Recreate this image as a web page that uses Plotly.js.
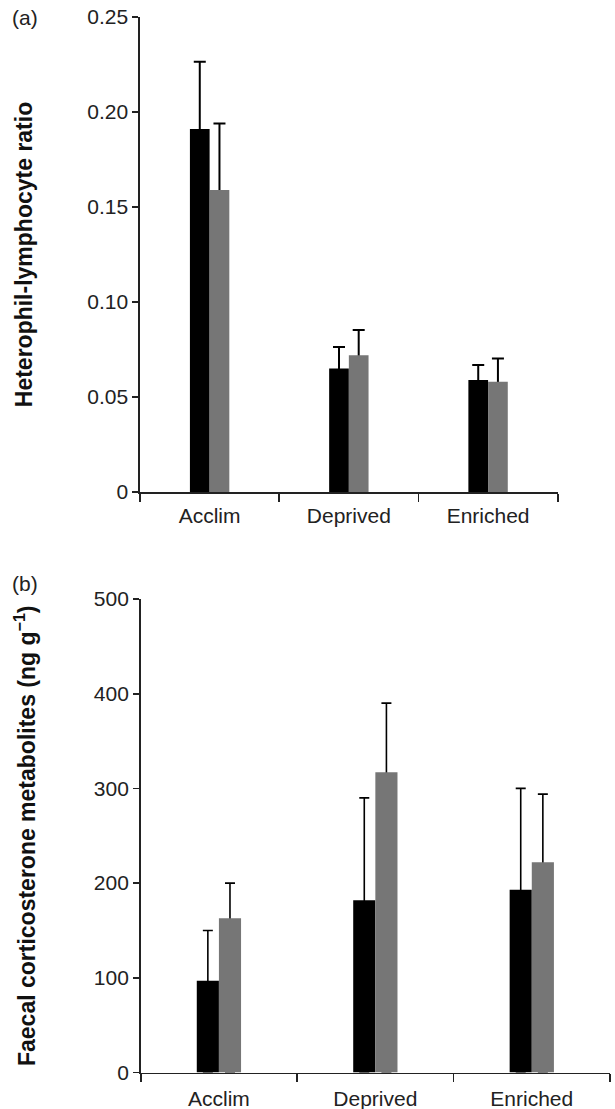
<!DOCTYPE html>
<html>
<head>
<meta charset="utf-8">
<script src="https://cdn.plot.ly/plotly-3.0.1.min.js"></script>
<style>html,body{margin:0;padding:0;background:#fff;}#chart{width:615px;height:1109px;}</style>
</head>
<body>
<div id="chart"></div>
<script>
// ---- data ----
const categories = ["Acclim", "Deprived", "Enriched"];

// Panel (a): heterophil-lymphocyte ratio
const hlBlack = [0.191, 0.065, 0.059];
const hlBlackErr = [0.0355, 0.0113, 0.0079];
const hlGray = [0.159, 0.072, 0.058];
const hlGrayErr = [0.035, 0.0133, 0.0123];
const hlTickVals = [0, 0.05, 0.10, 0.15, 0.20, 0.25];
const hlTickText = ["0", "0.05", "0.10", "0.15", "0.20", "0.25"];

// Panel (b): faecal corticosterone metabolites (ng g-1)
const fcBlack = [97, 182, 193];
const fcBlackErr = [53, 108, 107];
const fcGray = [163, 317, 222];
const fcGrayErr = [37, 73, 72];
const fcTickVals = [0, 100, 200, 300, 400, 500];
const fcTickText = ["0", "100", "200", "300", "400", "500"];

// ---- styles ----
const BLACK = "#000000";
const GRAY = "#767676";
const AXC = "#222222";
const FONT = "Liberation Sans, Arial, sans-serif";
const CLEAR = "rgba(0,0,0,0)";

// Error bars only point upward: each is carried by a transparent bar in the
// same offset group, drawn first, so the real bar hides the part inside it.
function errOpts(y, err, errW, capW) {
  return {type: "data", symmetric: false, array: err, arrayminus: y,
          visible: true, color: "#000000", thickness: errW, width: capW};
}
function bar(y, color, xa, ya, name, group, extra) {
  return Object.assign({
    type: "bar", x: categories, y: y, name: name,
    xaxis: xa, yaxis: ya, offsetgroup: group,
    marker: {color: color, line: {width: 0}},
    showlegend: false, hoverinfo: "y"
  }, extra || {});
}

const traces = [
  // panel (a)
  bar(hlBlack, CLEAR, "x", "y", "Group 1 SE", "g1", {error_y: errOpts(hlBlack, hlBlackErr, 2, 6), hoverinfo: "skip"}),
  bar(hlGray, CLEAR, "x", "y", "Group 2 SE", "g2", {error_y: errOpts(hlGray, hlGrayErr, 2, 6), hoverinfo: "skip"}),
  bar(hlBlack, BLACK, "x", "y", "Group 1", "g1"),
  bar(hlGray, GRAY, "x", "y", "Group 2", "g2"),
  // panel (b)
  bar(fcBlack, CLEAR, "x2", "y2", "Group 1 SE", "g1", {error_y: errOpts(fcBlack, fcBlackErr, 1.6, 5), hoverinfo: "skip"}),
  bar(fcGray, CLEAR, "x2", "y2", "Group 2 SE", "g2", {error_y: errOpts(fcGray, fcGrayErr, 1.6, 5), hoverinfo: "skip"}),
  bar(fcBlack, BLACK, "x2", "y2", "Group 1", "g1"),
  bar(fcGray, GRAY, "x2", "y2", "Group 2", "g2")
];

const W = 615, H = 1109;
const xAxisBase = {
  type: "category", showline: true, linecolor: AXC, linewidth: 1.6,
  ticks: "outside", tickson: "boundaries", ticklen: 8, tickwidth: 1.6, tickcolor: AXC,
  showgrid: false, zeroline: false, fixedrange: true,
  tickfont: {family: FONT, size: 21, color: "#222"}, ticklabelstandoff: 4
};
const yAxisBase = {
  showline: true, linecolor: AXC, linewidth: 1.6,
  ticks: "outside", ticklen: 6, tickwidth: 1.6, tickcolor: AXC,
  showgrid: false, zeroline: false, fixedrange: true,
  tickfont: {family: FONT, size: 21, color: "#222"}
};

const layout = {
  width: W, height: H,
  margin: {l: 0, r: 0, t: 0, b: 0},
  paper_bgcolor: "#fff", plot_bgcolor: "#fff",
  barmode: "group", bargap: 0.717, bargroupgap: 0,
  font: {family: FONT, color: "#111"},
  xaxis: Object.assign({}, xAxisBase, {domain: [140/W, 557.7/W], anchor: "y"}),
  yaxis: Object.assign({}, yAxisBase, {
    domain: [1 - 492/H, 1 - 17/H], anchor: "x", range: [0, 0.25],
    tickmode: "array", tickvals: hlTickVals, ticktext: hlTickText,
    title: {text: "Heterophil-lymphocyte ratio", standoff: 48,
            font: {family: FONT, size: 23, color: "#111", weight: "bold"}}
  }),
  xaxis2: Object.assign({}, xAxisBase, {domain: [140.7/W, 610/W], anchor: "y2", ticklabelstandoff: 7}),
  yaxis2: Object.assign({}, yAxisBase, {
    domain: [1 - 1072.5/H, 1 - 599/H], anchor: "x2", range: [0, 500],
    tickmode: "array", tickvals: fcTickVals, ticktext: fcTickText,
    title: {text: "Faecal corticosterone metabolites (ng g<sup>−1</sup>)", standoff: 52,
            font: {family: FONT, size: 23, color: "#111", weight: "bold"}}
  }),
  annotations: [
    {text: "(a)", xref: "paper", yref: "paper", x: 25/W, y: 1 - 18/H,
     xanchor: "center", yanchor: "middle", showarrow: false,
     font: {family: FONT, size: 21, color: "#222"}},
    {text: "(b)", xref: "paper", yref: "paper", x: 25/W, y: 1 - 583/H,
     xanchor: "center", yanchor: "middle", showarrow: false,
     font: {family: FONT, size: 21, color: "#222"}}
  ]
};

Plotly.newPlot("chart", traces, layout, {displayModeBar: false, staticPlot: true});
</script>
</body>
</html>
